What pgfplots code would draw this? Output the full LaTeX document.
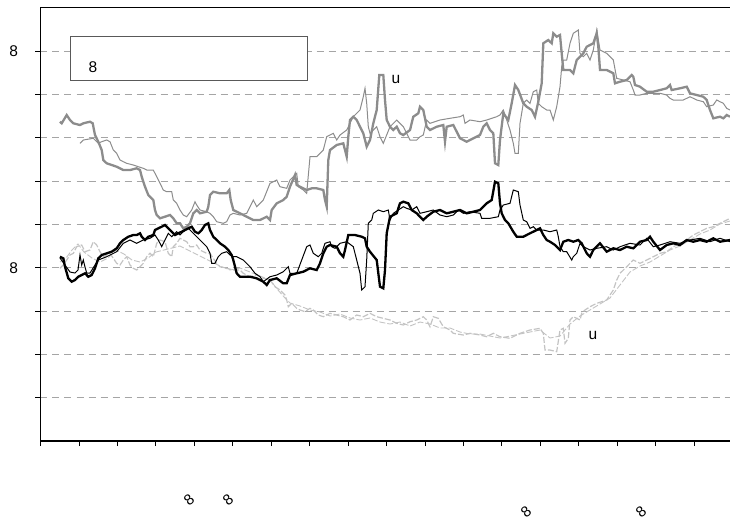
\documentclass[border=0pt]{standalone}
\usepackage{fontspec}
\setmainfont{Liberation Sans}
\usepackage{pgfplots}
\pgfplotsset{compat=1.18}
\definecolor{midgray}{RGB}{140,140,140}
\definecolor{lgray}{RGB}{195,195,195}
\definecolor{gridgray}{RGB}{165,165,165}
\newcommand{\lbl}{\fontsize{15.5}{18}\selectfont}
\newcommand{\sml}{\fontsize{15}{17}\selectfont}

\begin{document}
\begin{tikzpicture}[x=1pt,y=1pt]
\useasboundingbox (0,0) rectangle (730,-520);
\begin{axis}[
    at={(40.5pt,-7.7pt)}, anchor=north west,
    scale only axis, width=690.5pt, height=433.3pt,
    xmin=40.5, xmax=731, ymin=7.7, ymax=441, y dir=reverse,
    clip mode=individual,
    axis line style={black, line width=1.1pt},
    tick align=outside, xtick pos=bottom, ytick pos=left,
    major tick length=5pt,
    tick style={black, line width=0.9pt},
    xtick={40.5,78.95,117.4,155.85,194.3,232.75,271.2,309.65,348.1,386.55,425,463.45,501.9,540.35,578.8,617.25,655.7,694.15},
    xticklabels={},
    ytick={51,94.3,137.7,181,224.3,267.7,311,354.3,397.7},
    yticklabels={8,,,,,8,,,},
    yticklabel style={font=\lbl, xshift=-14pt},
    /pgf/number format/assume math mode=true,
    ymajorgrids,
    grid style={gridgray, line width=0.9pt, dash pattern=on 7pt off 5pt},
]
% light grey dashed pair
\addplot[lgray, line width=0.9pt, dash pattern=on 6pt off 2pt] coordinates {
(60,262)(66,258)(72,250)(78,244)(84,252)(92,258)(100,262)(108,258)(116,250)(124,254)(132,260)(140,262)(148,258)(156,252)(164,250)(172,248)(180,246)(188,250)(196,254)(204,258)(212,262)(220,266)(230,270)(240,268)(250,272)(260,276)(270,280)(278,290)(285,298)(290,303)(300,306)(310,310)(320,312)(330,316)(340,314)(350,318)(360,320)(370,318)(380,322)(390,324)(400,322)(410,326)(420,322)(430,324)(440,328)(450,328)(460,332)(470,334)(480,334)(490,336)(500,338)(510,336)(520,334)(530,332)(540,330)(550,338)(560,336)(570,324)(580,316)(590,310)(600,304)(610,298)(620,285)(630,272)(640,266)(650,262)(660,256)(670,250)(680,246)(690,240)(700,234)(710,230)(720,224)(730,221)
};
\addplot[lgray, line width=1.2pt, dash pattern=on 6pt off 2pt] coordinates {
(60,268.3)(63.3,265)(66.7,260)(70,255)(73.3,253.3)(76.7,246.7)(81.7,245)(85,251.7)(90,250)(93.3,241.7)(96.7,245)(100,251.7)(103.3,256.7)(106.7,255)(110,253.3)(113.3,258.3)(116.7,263.3)(120,265)(123.3,260)(126.7,256.7)(130,265)(133.3,268.3)(136.7,270)(140,266.7)(143.3,263.3)(146.7,256.7)(150,253.3)(153.3,256.7)(156.7,243.3)(160,240)(165,241.7)(168.3,253.3)(171.7,256.7)(173.3,246.7)(176.7,243.3)(180,238.3)(186.7,241.7)(190,246.7)(193.3,246.7)(196.7,245)(200,250)(203.3,251.7)(206.7,253.3)(210,253.3)(213.3,258.3)(216.7,263.3)(220,266.7)(226.7,268.3)(233.3,270)(240,270)(243.3,273.3)(250,276.7)(256.7,275)(263.3,278.3)(270,280)(275,286.7)(280,290)(285,295)(286.7,300)(288.3,306.7)(291.7,303.3)(296.7,308.3)(300,310)(305,311.7)(310,308.3)(313.3,310)(318.3,315)(323.3,316.7)(330,313.3)(336.7,315)(343.3,316.7)(350,320)(356.7,315)(363.3,316.7)(370,313.3)(376.7,316.7)(383.3,318.3)(390,320)(396.7,323.3)(403.3,325)(410,321.7)(416.7,320)(423.3,316.7)(426.7,320)(430,326.7)(433.3,316.7)(438.3,318.3)(443.3,326.7)(450,330)(453.3,333.3)(463.3,335)(470,333.3)(480,335)(486.7,336.7)(493.3,333.3)(500,336.7)(510,338.3)(520,333.3)(530,330)(540,328.3)(543.3,333.3)(545,350)(550,350)(556.7,351.7)(560,330)(563.3,328.3)(565,343.3)(568.3,338.3)(570,320)(573.3,316.7)(580,320)(581.7,313.3)(585,310)(590,306.7)(596.7,303.3)(606.7,300)(613.3,290)(616.7,280)(620,273.3)(626.7,266.7)(633.3,260)(640,263.3)(646.7,260)(653.3,256.7)(660,253.3)(666.7,251.7)(673.3,246.7)(680,243.3)(686.7,240)(693.3,235)(700,231.7)(706.7,228.3)(713.3,226.7)(720,223.3)(726.7,220)(730,218.3)
};
% grey pair
\addplot[midgray, line width=1pt] coordinates {
(80,143.3)(83.3,140)(93.3,138.3)(98.3,143.3)(101.7,141.7)(106.7,140)(110,141.7)(113.3,150)(116.7,153.3)(120,160)(123.3,161.7)(126.7,163.3)(133.3,165)(138.3,166.7)(143.3,168.3)(146.7,170)(153.3,170)(156.7,176.7)(160,183.3)(163.3,190)(166.7,191.7)(171.7,191.7)(173.3,200)(176.7,203.3)(180,210)(183.3,215)(186.7,216.7)(191.7,210)(195,201.7)(196.7,205)(200,210)(206.7,211.7)(210,213.3)(213.3,216.7)(216.7,221.7)(223.3,223.3)(226.7,221.7)(230,215)(233.3,213.3)(240,215)(246.7,213.3)(253.3,200)(256.7,206.7)(263.3,200)(270,183.3)(276.7,180)(280,186.7)(286.7,188.3)(290,180)(296.7,173.3)(298.3,186.7)(303.3,190)(306.7,193.3)(310,156.7)(316.7,156.7)(323.3,150)(326.7,136.7)(333.3,133.3)(336.7,140)(340,135)(346.7,130)(350,123.3)(353.3,116.7)(356.7,113.3)(360,110)(363.3,96.7)(365,88.3)(366.7,103.3)(368.3,126.7)(370,133.3)(376.7,126.7)(380,136.7)(383.3,143.3)(390,126.7)(396.7,120)(403.3,126.7)(410,140)(416.7,140)(420,136.7)(423.3,135)(426.7,120)(430,123.3)(440,120)(450,118.3)(460,116.7)(463.3,115)(465,123.3)(470,120)(480,121.7)(486.7,120)(496.7,116.7)(500,115)(503.3,110)(506.7,120)(510,130)(513.3,143.3)(515,153.3)(518.3,153.3)(520,123.3)(523.3,103.3)(526.7,100)(530,103.3)(533.3,91.7)(536.7,90)(538.3,103.3)(541.7,106.7)(546.7,110)(550,110)(553.3,120)(555,113.3)(556.7,106.7)(560,86.7)(561.7,66.7)(563.3,60)(566.7,60)(570,43.3)(573.3,33.3)(578.3,30)(580,53.3)(583.3,56.7)(586.7,53.3)(590,60)(593.3,50)(596.7,30)(600,50)(606.7,53.3)(613.3,60)(616.7,78.3)(623.3,80)(630,81.7)(633.3,90)(635,95)(640,95)(646.7,93.3)(660,93.3)(666.7,95)(670,98.3)(673.3,100)(683.3,100)(690,96.7)(696.7,100)(703.3,101.7)(706.7,106.7)(713.3,105)(716.7,100)(720,101.7)(723.3,103.3)(726.7,108.3)(730,110)
};
\addplot[midgray, line width=2.3pt] coordinates {
(60,121.7)(61.7,123.3)(66.7,115)(70,120)(73.3,123.3)(80,125)(83.3,123.3)(90,121.7)(92.7,123.3)(95,135)(98.3,141.7)(101.7,150)(103.3,160)(106.7,163.3)(111.7,165)(116.7,166.7)(123.3,170)(130,170)(136.7,168.3)(140,170)(141.7,176.7)(145,186.7)(148.3,195)(153.3,200)(155,210)(156.7,215)(160,218.3)(165,216.7)(170,215)(173.3,218.3)(176.7,223.3)(180,223.3)(183.3,228.3)(186.7,226.7)(190,223.3)(193.3,213.3)(196.7,210)(200,213.3)(206.7,211.7)(208.3,206.7)(210,195)(213.3,191.7)(220,193.3)(226.7,193.3)(229.3,190)(230.7,200)(233.3,210)(240,213.3)(246.7,216.7)(253.3,220)(260,220)(266.7,216.7)(270,220)(271.7,210)(276.7,203.3)(283.3,200)(286.7,196.7)(290,186.7)(295,175)(296.7,185)(300,186.7)(306.7,190)(311.7,188.3)(316.7,188.3)(323.3,190)(325,200)(326.7,206.7)(328.3,160)(330,150)(336.7,145)(343.3,143.3)(345,150)(346.7,156.7)(348.3,136.7)(350,120)(353.3,116.7)(356.7,120)(360,126.7)(363.3,133.3)(366.7,146.7)(370,140)(373.3,123.3)(376.7,110)(379.3,75)(383.3,75)(385,100)(386.7,120)(390,126.7)(393.3,130)(396.7,126.7)(400,133.3)(403.3,135)(410,130)(413.3,116.7)(418.3,113.3)(420,106.7)(423.3,110)(426.7,126.7)(430,130)(436.7,126.7)(443.3,125)(445,141.7)(446.7,126.7)(453.3,125)(456.7,131.7)(460,138.3)(466.7,141.7)(473.3,138.3)(480,135)(483.3,126.7)(486.7,123.3)(490,130)(493.3,133.3)(495,163.3)(498.3,165)(500,140)(503.3,113.3)(508.3,120)(511.7,103.3)(515,85)(518.3,90)(523.3,103.3)(526.7,106.7)(531.7,110)(535,116.7)(538.3,101.7)(541.7,83.3)(543.3,43.3)(548.3,40)(551.7,43.3)(553.3,33.3)(556.7,36.7)(560,35)(561.7,53.3)(563.3,70)(570,70)(573.3,73.3)(576.7,60)(580,56.7)(583.3,53.3)(586.7,46.7)(593.3,43.3)(596.7,33.3)(598.3,46.7)(600,70)(606.7,70)(613.3,73.3)(615,83.3)(620,81.7)(626.7,80)(631.7,75)(633.3,76.7)(635,85)(640,86.7)(646.7,91.7)(653.3,91.7)(660,90)(666.7,88.3)(670,85)(671.7,90)(680,88.3)(686.7,86.7)(690,93.3)(696.7,95)(703.3,96.7)(706.7,100)(710,110)(713.3,118.3)(720,116.7)(723.3,118.3)(726.7,115)(730,116.7)
};
% black pair
\addplot[black, line width=1pt] coordinates {
(60,258)(65,265)(70,272)(75,273)(78,270)(80,255)(81.7,265)(83.3,260)(85,267)(86.7,273)(90,273)(95,265)(98.3,260)(106.7,256.7)(116.7,251.7)(123.3,243.3)(130,240)(136.7,243.3)(143.3,240)(150,238.3)(155,235)(158.3,240)(161.7,246.7)(165,240)(168.3,233.3)(171.7,236.7)(176.7,231.7)(180,235)(183.3,231.7)(188.3,228.3)(193.3,233.3)(196.7,236.7)(200,240)(203.3,243.3)(206.7,246.7)(210,253.3)(211.7,263.3)(215,263.3)(218.3,256.7)(221.7,253.3)(226.7,251.7)(230,255)(233.3,256.7)(236.7,256.7)(243.3,260)(250,266.7)(255,273.3)(260,276.7)(263.3,281.7)(270,276.7)(276.7,275)(283.3,271.7)(288.3,266.7)(290,273.3)(296.7,273.3)(301.7,260)(306.7,246.7)(310,245)(313.3,253.3)(318.3,256.7)(321.7,253.3)(323.3,248.3)(325,243.3)(330,241.7)(331.7,246.7)(335,248.3)(340,243.3)(346.7,241.7)(353.3,246.7)(356.7,260)(360,273.3)(361.7,290)(365,286.7)(366.7,260)(368.3,223.3)(371.7,220)(373.3,213.3)(378.3,210)(383.3,211.7)(388.3,210)(390,220)(393.3,213.3)(398.3,210)(403.3,206.7)(406.7,208.3)(411.7,210)(416.7,206.7)(420,213.3)(426.7,211.7)(433.3,210)(440,215)(446.7,216.7)(453.3,215)(458.3,210)(463.3,213.3)(470,211.7)(480,213.3)(481.7,218.3)(490,218.3)(498.3,216.7)(500,210)(503.3,205)(510,203.3)(513.3,190)(518.3,191.7)(520,205)(523.3,220)(526.7,221.7)(530,228.3)(533.3,226.7)(536.7,230)(543.3,230)(550,231.7)(556.7,230)(558.3,236.7)(560,246.7)(563.3,251.7)(566.7,251.7)(571.7,260)(573.3,256.7)(576.7,253.3)(580,243.3)(583.3,246.7)(590,250)(596.7,248.3)(606.7,246.7)(613.3,250)(620,246.7)(630,243.3)(640,245)(646.7,238.3)(653.3,246.7)(660,245)(670,241.7)(680,243.3)(690,240)(700,238.3)(710,241.7)(720,238.3)(730,241.7)
};
\addplot[black, line width=2.3pt] coordinates {
(60,256.7)(63.3,258.3)(65,266.7)(68.3,278.3)(71.7,281.7)(75,280)(78.3,276.7)(81.7,275)(85,273.3)(88.3,276.7)(91.7,275)(95,268.3)(98.3,258.3)(101.7,255)(106.7,253.3)(111.7,251.7)(116.7,248.3)(120,243.3)(123.3,240)(128.3,236.7)(133.3,235)(136.7,235)(140,233.3)(141.7,236.7)(145,240)(148.3,236.7)(153.3,235)(155,230)(158.3,228.3)(161.7,226.7)(165,225)(168.3,228.3)(171.7,231.7)(175,235)(178.3,233.3)(181.7,231.7)(185,230)(188.3,228.3)(191.7,226.7)(195,231.7)(198.3,233.3)(201.7,230)(205,225)(208.3,223.3)(210,230)(213.3,236.7)(216.7,240)(220,243.3)(225,246.7)(228.3,250)(231.7,255)(233.3,260)(235,266.7)(236.7,273.3)(240,276.7)(243.3,276.7)(250,276.7)(256.7,278.3)(263.3,281.7)(266.7,285)(270,280)(276.7,278.3)(283.3,283.3)(286.7,283.3)(290,275)(296.7,273.3)(303.3,271.7)(310,268.3)(316.7,270)(320,263.3)(323.3,253.3)(326.7,246.7)(330,245)(336.7,246.7)(340,253.3)(343.3,256.7)(345,250)(348.3,235)(355,235)(361.7,236.7)(365,238.3)(366.7,246.7)(370,251.7)(376.7,260)(380,286.7)(383.3,288.3)(385,270)(386.7,233.3)(390,216.7)(396.7,213.3)(400,203.3)(403.3,201.7)(408.3,203.3)(411.7,210)(416.7,213.3)(423.3,220)(426.7,216.7)(433.3,211.7)(440,210)(446.7,213.3)(453.3,211.7)(460,210)(466.7,213.3)(473.3,211.7)(480,210)(486.7,203.3)(491.7,200)(495,181.7)(498.3,183.3)(500,203.3)(501.7,213.3)(505,220)(508.3,223.3)(513.3,231.7)(516.7,236.7)(523.3,236.7)(530,233.3)(536.7,230)(540,228.3)(543.3,235)(546.7,240)(550,241.7)(555,245)(560,250)(563.3,241.7)(568.3,240)(573.3,241.7)(578.3,240)(581.7,243.3)(586.7,253.3)(590,256.7)(593.3,250)(600,243.3)(606.7,251.7)(613.3,248.3)(620,250)(626.7,246.7)(633.3,248.3)(640,241.7)(646.7,240)(650,236.7)(653.3,241.7)(660,250)(666.7,245)(673.3,243.3)(680,245)(686.7,240)(693.3,241.7)(700,240)(706.7,241.7)(713.3,238.3)(720,241.7)(730,240)
};
% legend frame and stray labels
\draw[black!65, line width=0.9pt, fill=white] (axis cs:70,36) rectangle (axis cs:307,80);
\node[font=\lbl] at (axis cs:93,67) {8};
\node[font=\lbl] at (axis cs:396,79) {u};
\node[font=\lbl] at (axis cs:593,335) {u};
\node[font=\sml, rotate=40] at (axis cs:189,500) {8};
\node[font=\sml, rotate=40] at (axis cs:228,500) {8};
\node[font=\sml, rotate=40] at (axis cs:526,512) {8};
\node[font=\sml, rotate=40] at (axis cs:641,512) {8};
\end{axis}
\end{tikzpicture}
\end{document}
